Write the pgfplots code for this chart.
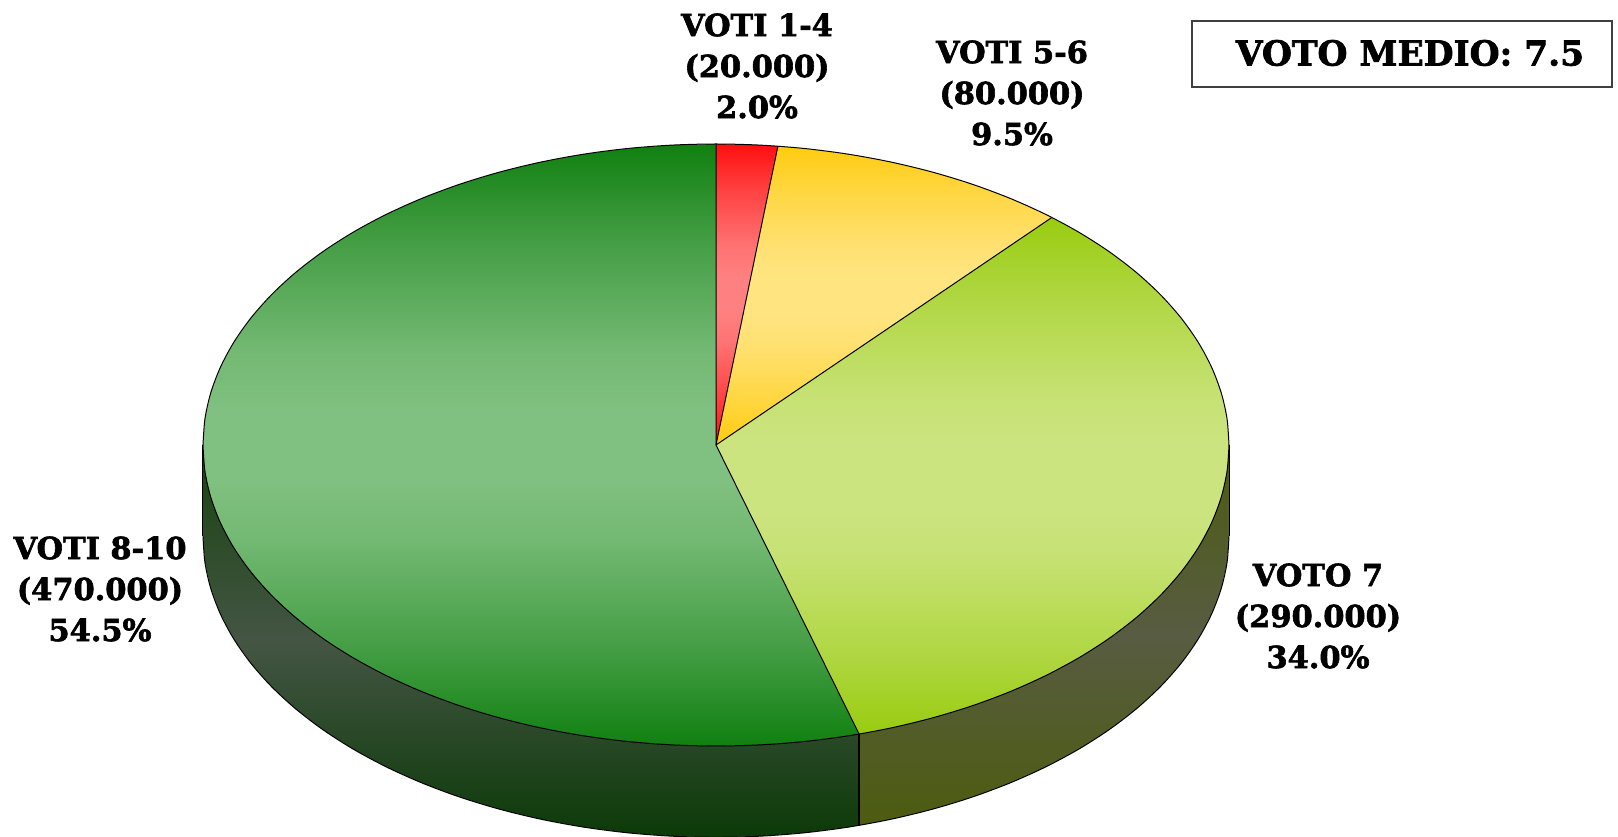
\documentclass[border=0pt]{standalone}
\usepackage{pgfplots}
\pgfplotsset{compat=1.18}
\usepackage{fontspec}
\setmainfont{DejaVu Serif}
\newfontface\labf{DejaVu Serif Bold}[FakeBold=2]
\definecolor{gT}{HTML}{108010}\definecolor{gM}{HTML}{80C080}
\definecolor{rT}{HTML}{FF0F0F}\definecolor{rM}{HTML}{FF8080}
\definecolor{yT}{HTML}{FFCC10}\definecolor{yM}{HTML}{FFE480}
\definecolor{lT}{HTML}{99CC10}\definecolor{lM}{HTML}{CCE480}
\definecolor{wlT}{HTML}{17430F}\definecolor{wlM}{HTML}{445544}\definecolor{wlB}{HTML}{0C3A08}
\definecolor{wrT}{HTML}{4C5C10}\definecolor{wrM}{HTML}{585C42}\definecolor{wrB}{HTML}{4C5C0E}
\newcommand{\mkshade}[1]{%
  \colorlet{tmpT}{#1T}\colorlet{tmpM}{#1M}%
  \colorlet{tmpA}{tmpM!46!tmpT}\colorlet{tmpB}{tmpM!88!tmpT}%
  \pgfdeclareverticalshading{#1shade}{100bp}{color(0bp)=(tmpT); color(25bp)=(tmpT); color(33bp)=(tmpA); color(42bp)=(tmpB); color(47bp)=(tmpM); color(53bp)=(tmpM); color(58bp)=(tmpB); color(67bp)=(tmpA); color(75bp)=(tmpT); color(100bp)=(tmpT)}}
\mkshade{g}\mkshade{r}\mkshade{y}\mkshade{l}
\tikzset{lab/.style={align=center,font=\fontsize{15.2pt}{20.5pt}\labf,inner sep=0pt}}
\begin{document}
\begin{tikzpicture}
\useasboundingbox (0,0) rectangle (809pt,418pt);
\begin{axis}[at={(0,0)},anchor=south west,scale only axis,width=809pt,height=418pt,hide axis,
  xmin=-1.3957,xmax=1.7583,ymin=-1.2990,ymax=1.4784,no markers,
  every axis plot/.append style={line width=0.5pt,line join=round}]
% side wall of VOTO 7
\addplot[draw=none,top color=wrT,bottom color=wrB,middle color=wrM] coordinates {
(1,0)(.99619,-.08716)(.98481,-.17365)(.96593,-.25882)(.93969,-.34202)(.90631,-.42262)(.86603,-.5)(.81915,-.57358)(.76604,-.64279)(.70711,-.70711)(.64279,-.76604)(.57358,-.81915)(.5,-.86603)(.42262,-.90631)(.34202,-.93969)(.27899,-.96029)
(.27899,-1.26359)(.34202,-1.24299)(.42262,-1.20961)(.5,-1.16933)(.57358,-1.12245)(.64279,-1.06934)(.70711,-1.01041)(.76604,-.94609)(.81915,-.87688)(.86603,-.8033)(.90631,-.72592)(.93969,-.64532)(.96593,-.56212)(.98481,-.47695)(.99619,-.39046)(1,-.3033)
} -- cycle;
% side wall of VOTI 8-10
\addplot[draw=none,top color=wlT,bottom color=wlB,middle color=wlM] coordinates {
(.27899,-.96029)(.25882,-.96593)(.17365,-.98481)(.08716,-.99619)(0,-1)(-.08716,-.99619)(-.17365,-.98481)(-.25882,-.96593)(-.34202,-.93969)(-.42262,-.90631)(-.5,-.86603)(-.57358,-.81915)(-.64279,-.76604)(-.70711,-.70711)(-.76604,-.64279)(-.81915,-.57358)(-.86603,-.5)(-.90631,-.42262)(-.93969,-.34202)(-.96593,-.25882)(-.98481,-.17365)(-.99619,-.08716)(-1,0)
(-1,-.3033)(-.99619,-.39046)(-.98481,-.47695)(-.96593,-.56212)(-.93969,-.64532)(-.90631,-.72592)(-.86603,-.8033)(-.81915,-.87688)(-.76604,-.94609)(-.70711,-1.01041)(-.64279,-1.06934)(-.57358,-1.12245)(-.5,-1.16933)(-.42262,-1.20961)(-.34202,-1.24299)(-.25882,-1.26923)(-.17365,-1.28811)(-.08716,-1.29949)(0,-1.3033)(.08716,-1.29949)(.17365,-1.28811)(.25882,-1.26923)(.27899,-1.26359)
} -- cycle;
% VOTI 8-10: 54.5%
\addplot[draw=none,shade,shading=gshade] coordinates {
(0,0)(.27899,-.96029)(.25882,-.96593)(.17365,-.98481)(.08716,-.99619)(0,-1)(-.08716,-.99619)(-.17365,-.98481)(-.25882,-.96593)(-.34202,-.93969)(-.42262,-.90631)(-.5,-.86603)(-.57358,-.81915)(-.64279,-.76604)(-.70711,-.70711)(-.76604,-.64279)(-.81915,-.57358)(-.86603,-.5)(-.90631,-.42262)(-.93969,-.34202)(-.96593,-.25882)(-.98481,-.17365)(-.99619,-.08716)(-1,0)(-.99619,.08716)(-.98481,.17365)(-.96593,.25882)(-.93969,.34202)(-.90631,.42262)(-.86603,.5)(-.81915,.57358)(-.76604,.64279)(-.70711,.70711)(-.64279,.76604)(-.57358,.81915)(-.5,.86603)(-.42262,.90631)(-.34202,.93969)(-.25882,.96593)(-.17365,.98481)(-.08716,.99619)(0,1)
} -- cycle;
% VOTO 7: 34.0%
\addplot[draw=none,shade,shading=lshade] coordinates {
(0,0)(.6547,.7559)(.70711,.70711)(.76604,.64279)(.81915,.57358)(.86603,.5)(.90631,.42262)(.93969,.34202)(.96593,.25882)(.98481,.17365)(.99619,.08716)(1,0)(.99619,-.08716)(.98481,-.17365)(.96593,-.25882)(.93969,-.34202)(.90631,-.42262)(.86603,-.5)(.81915,-.57358)(.76604,-.64279)(.70711,-.70711)(.64279,-.76604)(.57358,-.81915)(.5,-.86603)(.42262,-.90631)(.34202,-.93969)(.27899,-.96029)
} -- cycle;
% VOTI 5-6: 9.5%
\addplot[draw=none,shade,shading=yshade] coordinates {
(0,0)(.1207,.9927)(.17365,.98481)(.25882,.96593)(.34202,.93969)(.42262,.90631)(.5,.86603)(.57358,.81915)(.64279,.76604)(.6547,.7559)
} -- cycle;
% VOTI 1-4: 2.0%
\addplot[draw=none,shade,shading=rshade] coordinates {
(0,0)(0,1)(.08716,.99619)(.1207,.9927)
} -- cycle;
% outlines: rim of the top face
\addplot[black,smooth] coordinates {
(-1,0)(-.99619,.08716)(-.98481,.17365)(-.96593,.25882)(-.93969,.34202)(-.90631,.42262)(-.86603,.5)(-.81915,.57358)(-.76604,.64279)(-.70711,.70711)(-.64279,.76604)(-.57358,.81915)(-.5,.86603)(-.42262,.90631)(-.34202,.93969)(-.25882,.96593)(-.17365,.98481)(-.08716,.99619)(0,1)(.08716,.99619)(.17365,.98481)(.25882,.96593)(.34202,.93969)(.42262,.90631)(.5,.86603)(.57358,.81915)(.64279,.76604)(.70711,.70711)(.76604,.64279)(.81915,.57358)(.86603,.5)(.90631,.42262)(.93969,.34202)(.96593,.25882)(.98481,.17365)(.99619,.08716)(1,0)
};
\addplot[black,smooth] coordinates {
(1,0)(.99619,-.08716)(.98481,-.17365)(.96593,-.25882)(.93969,-.34202)(.90631,-.42262)(.86603,-.5)(.81915,-.57358)(.76604,-.64279)(.70711,-.70711)(.64279,-.76604)(.57358,-.81915)(.5,-.86603)(.42262,-.90631)(.34202,-.93969)(.25882,-.96593)(.17365,-.98481)(.08716,-.99619)(0,-1)(-.08716,-.99619)(-.17365,-.98481)(-.25882,-.96593)(-.34202,-.93969)(-.42262,-.90631)(-.5,-.86603)(-.57358,-.81915)(-.64279,-.76604)(-.70711,-.70711)(-.76604,-.64279)(-.81915,-.57358)(-.86603,-.5)(-.90631,-.42262)(-.93969,-.34202)(-.96593,-.25882)(-.98481,-.17365)(-.99619,-.08716)(-1,0)
};
% outlines: lower rim of the side wall
\addplot[black,smooth] coordinates {
(1,-.3033)(.99619,-.39046)(.98481,-.47695)(.96593,-.56212)(.93969,-.64532)(.90631,-.72592)(.86603,-.8033)(.81915,-.87688)(.76604,-.94609)(.70711,-1.01041)(.64279,-1.06934)(.57358,-1.12245)(.5,-1.16933)(.42262,-1.20961)(.34202,-1.24299)(.25882,-1.26923)(.17365,-1.28811)(.08716,-1.29949)(0,-1.3033)(-.08716,-1.29949)(-.17365,-1.28811)(-.25882,-1.26923)(-.34202,-1.24299)(-.42262,-1.20961)(-.5,-1.16933)(-.57358,-1.12245)(-.64279,-1.06934)(-.70711,-1.01041)(-.76604,-.94609)(-.81915,-.87688)(-.86603,-.8033)(-.90631,-.72592)(-.93969,-.64532)(-.96593,-.56212)(-.98481,-.47695)(-.99619,-.39046)(-1,-.3033)
};
% outlines: edges of the side wall and spokes
\addplot[black] coordinates {(1,0)(1,-.3033)};
\addplot[black] coordinates {(-1,0)(-1,-.3033)};
\addplot[black,line width=0.7pt] coordinates {(.27899,-.96029)(.27899,-1.26359)};
\addplot[black] coordinates {(0,1)(0,0)(.27899,-.96029)};
\addplot[black] coordinates {(.1207,.9927)(0,0)(.6547,.7559)};
\end{axis}
\node[lab] at (378.5pt,385pt) {VOTI 1-4\\(20.000)\\2.0\%};
\node[lab] at (506pt,371.5pt) {VOTI 5-6\\(80.000)\\9.5\%};
\node[lab] at (50pt,123.5pt) {VOTI 8-10\\(470.000)\\54.5\%};
\node[lab] at (659pt,110pt) {VOTO 7\\(290.000)\\34.0\%};
\draw[draw=black!75,line width=0.6pt] (596pt,407.5pt) rectangle (806pt,374.5pt);
\node[lab,font=\fontsize{17.2pt}{20pt}\labf] at (705pt,391.5pt) {VOTO MEDIO: 7.5};
\end{tikzpicture}
\end{document}
